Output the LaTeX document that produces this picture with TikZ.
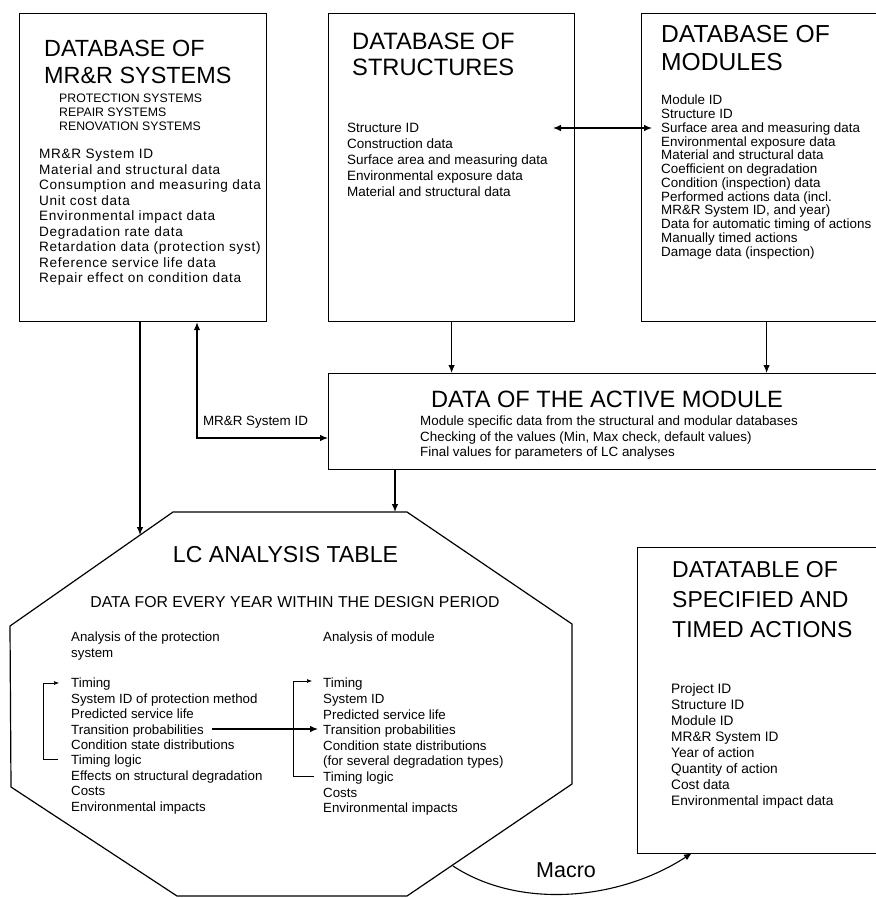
\documentclass[tikz,border=0pt]{standalone}
\usepackage{fontspec}
\setmainfont{Liberation Sans}
\usetikzlibrary{arrows,arrows.meta,positioning}
\newcommand{\fsz}[2]{\fontsize{#1}{#2}\selectfont}
\tikzstyle{dbbox}=[draw, line width=1.2pt, rectangle, inner sep=0pt, anchor=north west]
\tikzstyle{txt}=[inner sep=0pt, anchor=north west, align=left]
\tikzstyle{link}=[line width=1.1pt]
\tikzstyle{thinlink}=[line width=0.6pt, -{Latex[length=5pt,width=4pt]}]

\begin{document}
\begin{tikzpicture}[>={Latex[length=8pt,width=6.5pt]}, x=1pt, y=-1pt]
    \useasboundingbox (0,0) rectangle (876,898);
    \clip (0,0) rectangle (876,898);

    % Databases and tables
    \node[dbbox, minimum width=247pt, minimum height=308pt] (mrr) at (19,13) {};
    \node[dbbox, minimum width=246pt, minimum height=308pt] (struct) at (328,13) {};
    \node[dbbox, minimum width=250pt, minimum height=308pt] (modules) at (641,13) {};
    \node[dbbox, minimum width=580pt, minimum height=96pt] (active) at (328,373) {};
    \node[dbbox, minimum width=270pt, minimum height=306pt] (actions) at (637,547) {};

    % LC analysis table (octagon)
    \draw[line width=1.2pt] (173,512) -- (407,512) -- (572,624) -- (572,784)
    -- (407,896) -- (177,896) -- (11,787) -- (10,626) -- cycle;
    \coordinate (lcin) at (140,535);
    \coordinate (lctop) at (395,512);
    \coordinate (lcout) at (453,866);

    % MR&R systems
    \node[txt, font=\fsz{23.4}{27}] (mrrtitle) at (44,40) {DATABASE OF\\MR\&R SYSTEMS};
    \node[txt, font=\fsz{12.3}{14.2}] (mrrsub) at (59,93.5) {PROTECTION SYSTEMS\\REPAIR SYSTEMS\\RENOVATION SYSTEMS};
    \node[txt, font=\fsz{13.6}{15.5}\addfontfeature{LetterSpace=5}] (mrrlist) at (39,149) {MR\&R System ID\\Material and structural data\\Consumption and measuring data\\Unit cost data\\Environmental impact data\\Degradation rate data\\Retardation data (protection syst)\\Reference service life data\\Repair effect on condition data};

    % Structures
    \node[txt, font=\fsz{23.7}{26}] (structtitle) at (352,33) {DATABASE OF\\STRUCTURES};
    \node[txt, font=\fsz{13.5}{16}] (structlist) at (347,123) {Structure ID\\Construction data\\Surface area and measuring data\\Environmental exposure data\\Material and structural data};

    % Modules
    \node[txt, font=\fsz{24.6}{28}] (modtitle) at (661,25) {DATABASE OF\\MODULES};
    \node[txt, font=\fsz{13.4}{13.75}] (modlist) at (661,95) {Module ID\\Structure ID\\Surface area and measuring data\\Environmental exposure data\\Material and structural data\\Coefficient on degradation\\Condition (inspection) data\\Performed actions data (incl.\\MR\&R System ID, and year)\\Data for automatic timing of actions\\Manually timed actions\\Damage data (inspection)};

    % Active module
    \node[inner sep=0pt, anchor=base, font=\fsz{23.6}{27}] (acttitle) at (607,407) {DATA OF THE ACTIVE MODULE};
    \node[txt, font=\fsz{13.4}{15.5}] (actlist) at (420,416) {Module specific data from the structural and modular databases\\Checking of the values (Min, Max check, default values)\\Final values for parameters of LC analyses};

    % Specified and timed actions
    \node[txt, font=\fsz{23}{30}] (dttitle) at (672,561) {DATATABLE OF\\SPECIFIED AND\\TIMED ACTIONS};
    \node[txt, font=\fsz{13.7}{16}] (dtlist) at (671,683) {Project ID\\Structure ID\\Module ID\\MR\&R System ID\\Year of action\\Quantity of action\\Cost data\\Environmental impact data};

    % LC table contents
    \node[inner sep=0pt, anchor=base, font=\fsz{23.1}{26}] (lctitle) at (285.5,562) {LC ANALYSIS TABLE};
    \node[inner sep=0pt, anchor=base, font=\fsz{15.8}{18}] (lcsub) at (295,607) {DATA FOR EVERY YEAR WITHIN THE DESIGN PERIOD};
    \node[txt, font=\fsz{13.3}{15.4}] (prot) at (71,632) {Analysis of the protection\\system};
    \node[txt, font=\fsz{13.3}{15.4}] (protlist) at (71,678) {Timing\\System ID of protection method\\Predicted service life\\Transition probabilities\\Condition state distributions\\Timing logic\\Effects on structural degradation\\Costs\\Environmental impacts};
    \node[txt, font=\fsz{13.3}{15.4}] (modan) at (323,632) {Analysis of module};
    \node[txt, font=\fsz{13.3}{15.6}] (modanlist) at (323,678) {Timing\\System ID\\Predicted service life\\Transition probabilities\\Condition state distributions\\(for several degradation types)\\Timing logic\\Costs\\Environmental impacts};

    % Links between the tables
    \draw[link,->] (mrr.south -| lcin) -- (lcin);
    \draw[link,->] (active.south -| lctop) -- (lctop);
    \draw[link,->] (struct.south) -- (struct.south |- active.north);
    \draw[link,->] (modules.south) -- (modules.south |- active.north);
    \coordinate (sidl) at (553,128);
    \coordinate (sidr) at (652,128);
    \draw[link,<->] (sidl) -- (sidr);
    \coordinate (sysid) at (197,438);
    \draw[link,<->] (mrr.south -| sysid) -- (sysid) -- (sysid -| active.west);
    \node[inner sep=0pt, font=\fsz{13.4}{15}] (sysidlbl) at (255.5,422) {MR\&R System ID};
    \coordinate (dtin) at (692,853);
    \draw[link,->] (lcout) .. controls (520,910) and (620,900) .. (dtin);
    \node[inner sep=0pt, font=\fsz{21.5}{24}] (macro) at (566,870) {Macro};

    % Timing loops and transitions
    \coordinate (ptop) at (59,683);
    \coordinate (pbot) at (58,759);
    \draw[thinlink] (pbot) -- (43,759) -- (43,683) -- (ptop);
    \coordinate (mtop) at (312,681);
    \coordinate (mbot) at (314,776);
    \draw[thinlink] (mbot) -- (293,776) -- (293,681) -- (mtop);
    \coordinate (trl) at (212,729);
    \coordinate (trr) at (318,729);
    \draw[link,->] (trl) -- (trr);

\end{tikzpicture}
\end{document}
